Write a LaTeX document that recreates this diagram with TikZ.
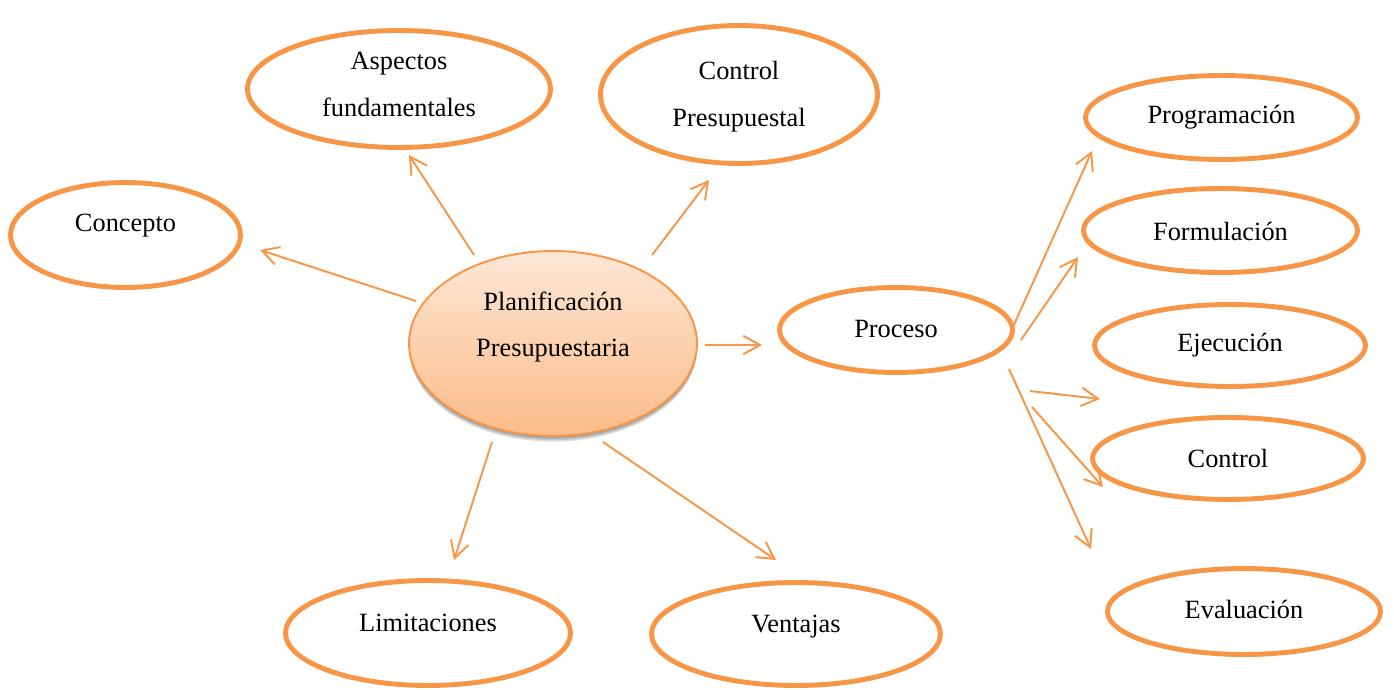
\documentclass[tikz,border=0pt]{standalone}
\usepackage{fontspec}
\setmainfont{Liberation Serif}
\usetikzlibrary{arrows.meta,shapes.geometric,shadows,calc}
\definecolor{naranja}{HTML}{F79646}
\definecolor{durazno}{HTML}{FDE7D6}
\definecolor{melocoton}{HTML}{FBBC88}
\begin{document}
\begin{tikzpicture}[x=0.02cm,y=-0.02cm,
  ovalo/.style={ellipse,draw=naranja,line width=2.8pt,fill=white,inner sep=0pt},
  sombra/.style={drop shadow={shadow xshift=0pt,shadow yshift=-#1,opacity=0.12,fill=black}},
  centro/.style={ellipse,draw=naranja,line width=1.1pt,inner sep=0pt,
    top color=durazno,bottom color=melocoton,
    sombra=3.2pt,sombra=2.4pt,sombra=1.6pt,sombra=0.8pt},
  txt/.style={align=center,inner sep=0pt,font=\fontsize{15}{26.7}\selectfont},
  flecha/.style={draw=naranja,line width=1.1pt,
    -{Straight Barb[length=9.5pt,width=10.5pt,line width=1.1pt]}}]
\useasboundingbox (0,0) rectangle (1394,690);

% central node
\node[centro,minimum width=5.76cm,minimum height=3.70cm] (plan) at (553,343.5) {};
\node[txt] (plan-t) at (553,327) {Planificación\\Presupuestaria};

% surrounding topics
\node[ovalo,minimum width=4.60cm,minimum height=2.10cm] (concepto) at (125.5,235) {};
\node[txt] (concepto-t) at (125.5,226) {Concepto};

\node[ovalo,minimum width=6.06cm,minimum height=2.34cm] (aspectos) at (399,89) {};
\node[txt] (aspectos-t) at (399,84) {Aspectos\\fundamentales};

\node[ovalo,minimum width=5.54cm,minimum height=2.76cm] (ctrlpres) at (739,94.5) {};
\node[txt] (ctrlpres-t) at (739,97) {Control\\Presupuestal};

\node[ovalo,minimum width=4.66cm,minimum height=1.70cm] (proceso) at (896,330) {};
\node[txt] (proceso-t) at (896,329) {Proceso};

\node[ovalo,minimum width=5.70cm,minimum height=2.10cm] (limit) at (428,633) {};
\node[txt] (limit-t) at (428,623) {Limitaciones};

\node[ovalo,minimum width=5.78cm,minimum height=2.06cm] (ventajas) at (796,634) {};
\node[txt] (ventajas-t) at (796,627) {Ventajas};

% stages of the process
\node[ovalo,minimum width=5.44cm,minimum height=1.68cm] (prog) at (1221.5,117.5) {};
\node[txt] (prog-t) at (1221.5,117) {Programación};

\node[ovalo,minimum width=5.48cm,minimum height=1.68cm] (formu) at (1220.5,230.5) {};
\node[txt] (formu-t) at (1220.5,231) {Formulación};

\node[ovalo,minimum width=5.42cm,minimum height=1.64cm] (ejec) at (1230,345.5) {};
\node[txt] (ejec-t) at (1230,345) {Ejecución};

\node[ovalo,minimum width=5.42cm,minimum height=1.64cm] (control) at (1228,458.5) {};
\node[txt] (control-t) at (1228,458) {Control};

\node[ovalo,minimum width=5.46cm,minimum height=1.72cm] (evalua) at (1244,611.5) {};
\node[txt] (evalua-t) at (1244,609) {Evaluación};

% arrow end points (arrows float between the ovals)
\coordinate (s-concepto) at (416,301);  \coordinate (e-concepto) at (260,250);
\coordinate (s-aspectos) at (474,255);  \coordinate (e-aspectos) at (409,155);
\coordinate (s-ctrlpres) at (652,255);  \coordinate (e-ctrlpres) at (709,180);
\coordinate (s-proceso) at (705,345);   \coordinate (e-proceso) at (762,345);
\coordinate (s-limit) at (492,442);     \coordinate (e-limit) at (454,560);
\coordinate (s-ventajas) at (603,442);  \coordinate (e-ventajas) at (776,560);
\coordinate (s-prog) at (1013,327);     \coordinate (e-prog) at (1092,151);
\coordinate (s-formu) at (1021,340);    \coordinate (e-formu) at (1078,257);
\coordinate (s-ejec) at (1030,391);     \coordinate (e-ejec) at (1100,399);
\coordinate (s-control) at (1032,407);  \coordinate (e-control) at (1103,487);
\coordinate (s-evalua) at (1009,369);   \coordinate (e-evalua) at (1091,549);

\foreach \n in {concepto,aspectos,ctrlpres,proceso,limit,ventajas,prog,formu,ejec,control,evalua}
  \draw[flecha] (s-\n) -- (e-\n);
\end{tikzpicture}
\end{document}
